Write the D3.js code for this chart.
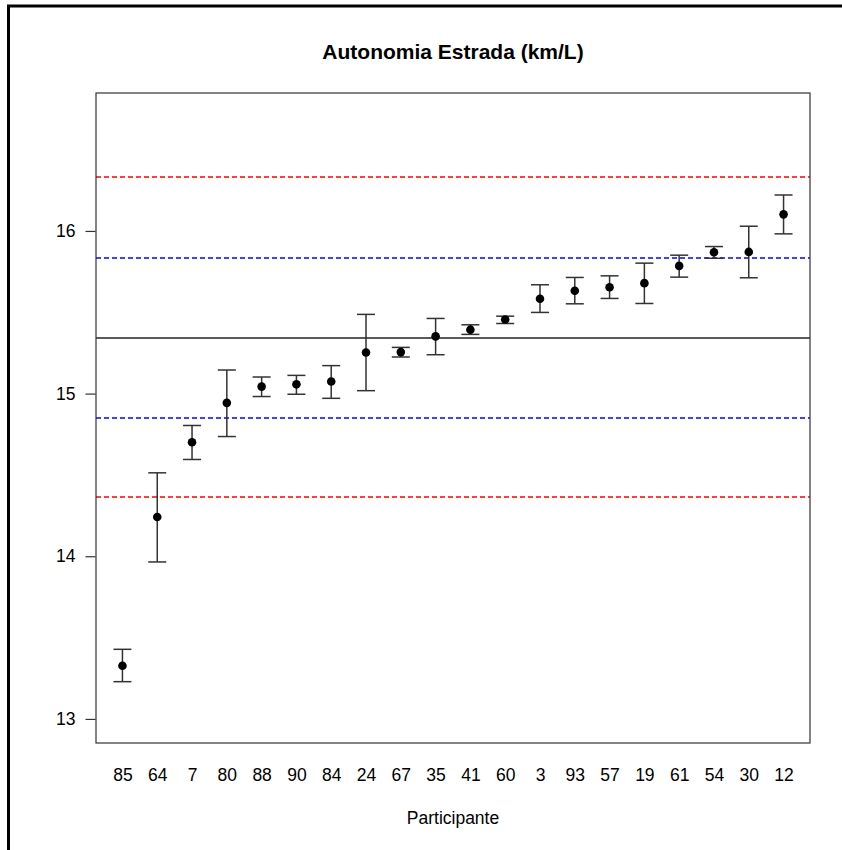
<!DOCTYPE html>
<html>
<head>
<meta charset="utf-8">
<script src="https://cdn.jsdelivr.net/npm/d3@7"></script>
<style>
  html, body { margin: 0; padding: 0; background: #fff; }
  svg { display: block; }
  text { font-family: "Liberation Sans", Arial, Helvetica, sans-serif; fill: #000; }
</style>
</head>
<body>
<svg id="chart" width="842" height="850"></svg>
<script>
// ---- Data ----
const participants = ["85","64","7","80","88","90","84","24","67","35","41","60","3","93","57","19","61","54","30","12"];
const means = [13.327,14.241,14.701,14.943,15.043,15.057,15.074,15.253,15.255,15.352,15.393,15.456,15.583,15.632,15.654,15.679,15.785,15.869,15.871,16.102];
const upper = [13.428,14.513,14.804,15.145,15.102,15.112,15.172,15.487,15.284,15.462,15.423,15.476,15.669,15.714,15.724,15.802,15.851,15.904,16.029,16.221];
const lower = [13.229,13.965,14.595,14.736,14.982,14.996,14.971,15.018,15.225,15.239,15.364,15.431,15.499,15.552,15.585,15.554,15.716,15.832,15.712,15.982];
const centerLine = 15.344;
const innerLimits = [14.853, 15.835];   // blue dashed
const outerLimits = [14.362, 16.331];   // red dashed
const yTicks = [13, 14, 15, 16];
const yLim = [13, 16.7];
const titleText = "Autonomia Estrada (km/L)";
const xLabel = "Participante";

// ---- Layout ----
const svg = d3.select("#chart");
const plot = { left: 96, right: 810, top: 93, bottom: 743 };

// outer frame (partially visible)
svg.append("rect")
  .attr("x", 8.5).attr("y", 6)
  .attr("width", 900).attr("height", 900)
  .attr("fill", "none").attr("stroke", "#000").attr("stroke-width", 3);

const n = participants.length;
const xExt = (n - 1) * 0.04;
const x = d3.scaleLinear().domain([1 - xExt, n + xExt]).range([plot.left, plot.right]);
const yExt = (yLim[1] - yLim[0]) * 0.04;
const y = d3.scaleLinear().domain([yLim[0] - yExt, yLim[1] + yExt]).range([plot.bottom, plot.top]);

const g = svg.append("g");

// reference lines
function hline(v, color, dash, w) {
  const yy = Math.round(y(v));
  g.append("line")
    .attr("x1", plot.left).attr("x2", plot.right)
    .attr("y1", yy).attr("y2", yy)
    .attr("stroke", color).attr("stroke-width", w)
    .attr("stroke-dasharray", dash);
}
outerLimits.forEach(v => hline(v, "#ff0000", "5,3", 1.6));
innerLimits.forEach(v => hline(v, "#0000ff", "5,3", 1.6));
hline(centerLine, "#222", null, 1.3);

// error bars
const data = participants.map((p, i) => ({ p, i: i + 1, m: means[i], hi: upper[i], lo: lower[i] }));
const capW = 9;
const eb = g.selectAll("g.eb").data(data).join("g").attr("class", "eb");
eb.append("line")
  .attr("x1", d => x(d.i)).attr("x2", d => x(d.i))
  .attr("y1", d => y(d.hi)).attr("y2", d => y(d.lo))
  .attr("stroke", "#333").attr("stroke-width", 1.5);
eb.append("line")
  .attr("x1", d => x(d.i) - capW).attr("x2", d => x(d.i) + capW)
  .attr("y1", d => y(d.hi)).attr("y2", d => y(d.hi))
  .attr("stroke", "#333").attr("stroke-width", 1.5);
eb.append("line")
  .attr("x1", d => x(d.i) - capW).attr("x2", d => x(d.i) + capW)
  .attr("y1", d => y(d.lo)).attr("y2", d => y(d.lo))
  .attr("stroke", "#333").attr("stroke-width", 1.5);
eb.append("circle")
  .attr("cx", d => x(d.i)).attr("cy", d => y(d.m))
  .attr("r", 4.3).attr("fill", "#000");

// plot box
svg.append("rect")
  .attr("x", plot.left).attr("y", plot.top)
  .attr("width", plot.right - plot.left).attr("height", plot.bottom - plot.top)
  .attr("fill", "none").attr("stroke", "#333").attr("stroke-width", 1.2);

// y axis
const yAxis = d3.axisLeft(y).tickValues(yTicks).tickSize(10).tickPadding(10).tickFormat(d3.format("d"));
const ya = svg.append("g").attr("transform", `translate(${plot.left - 0.5},0)`).call(yAxis);
ya.select(".domain").remove();
ya.selectAll(".tick line").attr("stroke", "#333").attr("stroke-width", 1.2);
ya.selectAll(".tick text").attr("font-size", 17.5).attr("font-family", "Liberation Sans, Arial, sans-serif").attr("fill", "#000");

// x labels (no axis line/ticks)
const xAxis = d3.axisBottom(x).tickValues(d3.range(1, n + 1)).tickSize(0).tickPadding(0)
  .tickFormat(d => participants[d - 1]);
const xa = svg.append("g").attr("transform", `translate(0,${plot.bottom})`).call(xAxis);
xa.select(".domain").remove();
xa.selectAll(".tick text").attr("font-size", 17.5).attr("font-family", "Liberation Sans, Arial, sans-serif")
  .attr("fill", "#000").attr("dy", null).attr("y", 38);

// title
svg.append("text")
  .attr("x", (plot.left + plot.right) / 2).attr("y", 59)
  .attr("text-anchor", "middle").attr("font-size", 21).attr("font-weight", "bold")
  .text(titleText);

// x axis label
svg.append("text")
  .attr("x", (plot.left + plot.right) / 2).attr("y", 824)
  .attr("text-anchor", "middle").attr("font-size", 17.5)
  .text(xLabel);
</script>
</body>
</html>
